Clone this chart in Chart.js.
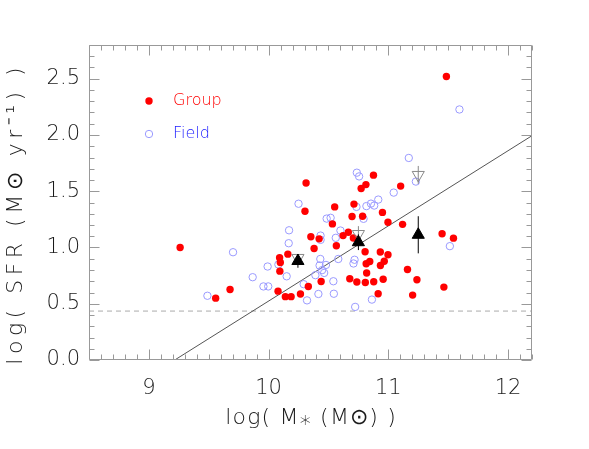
<!DOCTYPE html>
<html>
<head>
<meta charset="utf-8">
<script src="https://cdn.jsdelivr.net/npm/chart.js@4.4.0/dist/chart.umd.min.js"></script>
<style>
  html, body { margin: 0; padding: 0; background: #fff; }
</style>
</head>
<body>
<canvas id="grafico" width="589" height="449"></canvas>
<script>
// Galaxias de grupo (pontos vermelhos)
const massaGrupo = [9.261, 9.558, 9.678, 10.092, 10.098, 10.094, 10.161, 10.079, 10.140, 10.188,
    10.266, 10.304, 10.313, 10.552, 10.533, 10.353, 10.422, 10.380, 10.566, 10.622,
    10.666, 10.713, 10.697, 10.785, 10.773, 10.813, 10.876, 10.708, 10.806, 10.815,
    10.845, 10.819, 10.678, 10.737, 10.808, 10.878, 10.439, 10.332, 11.103, 10.951,
    10.997, 11.119, 11.449, 10.933, 10.997, 10.966, 10.934, 11.160, 11.239, 10.957,
    11.464, 10.915, 11.203, 11.485, 11.544];
const sfrGrupo = [1.000, 0.550, 0.627, 0.909, 0.867, 0.790, 0.941, 0.612, 0.563, 0.563,
    0.587, 1.322, 1.574, 1.361, 1.210, 1.095, 1.077, 0.991, 1.015, 1.106,
    1.136, 1.386, 1.275, 1.278, 1.524, 1.559, 1.643, 1.084, 0.962, 0.855,
    0.876, 0.774, 0.722, 0.694, 0.689, 0.696, 0.698, 0.654, 1.546, 1.312,
    1.224, 1.206, 1.122, 0.960, 0.936, 0.878, 0.840, 0.805, 0.714, 0.718,
    0.648, 0.589, 0.577, 2.520, 1.083];

// Galaxias de campo (circulos azuis)
const massaCampo = [9.489, 9.703, 9.867, 9.957, 9.997, 9.992, 10.082, 10.151, 10.168, 10.171,
    10.250, 10.293, 10.737, 10.756, 10.734, 10.485, 10.518, 10.793, 10.817, 10.855,
    10.882, 10.916, 10.434, 10.434, 10.561, 10.600, 10.582, 10.432, 10.426, 10.479,
    10.447, 10.464, 10.391, 10.718, 10.709, 10.541, 10.416, 10.545, 10.321, 10.723,
    10.863, 11.171, 11.230, 11.045, 11.594, 11.514];
const sfrCampo = [0.571, 0.958, 0.736, 0.654, 0.654, 0.831, 0.849, 0.744, 1.038, 1.153,
    1.389, 0.674, 1.665, 1.632, 1.361, 1.257, 1.264, 1.255, 1.368, 1.390,
    1.373, 1.426, 1.106, 1.068, 1.086, 1.151, 0.898, 0.898, 0.840, 0.845,
    0.799, 0.774, 0.754, 0.891, 0.858, 0.700, 0.587, 0.589, 0.530, 0.472,
    0.537, 1.796, 1.586, 1.488, 2.227, 1.012];

// Medianas por faixa de massa
const massaFaixa = [10.245, 10.75, 11.25];
const sfrFaixaGrupo = [0.880, 1.047, 1.113];
const erroFaixaGrupo = [0.06, 0.07, 0.165];
const sfrFaixaCampo = [0.907, 1.120, 1.645];
const erroFaixaCampo = [0.03, 0.07, 0.08];

// Relacao ajustada e limite de SFR
const massaAjuste = [9.216, 12.2];
const sfrAjuste = [0.0, 1.994];
const limiteSfr = 0.435;

const eixoX = { min: 8.5, max: 12.2 };
const eixoY = { min: 0.0, max: 2.8 };
const ticksX = [9, 10, 11, 12];
const ticksY = [0.0, 0.5, 1.0, 1.5, 2.0, 2.5];

const tituloX = 'log( M⁎ (M⊙) )';
const tituloY = 'log( SFR (M⊙ yr⁻¹) )';

const fonte = "'DejaVu Sans', 'Liberation Sans', sans-serif";
const corTexto = '#1a1a1a';

function pares(xs, ys) {
    return xs.map((x, i) => ({ x: x, y: ys[i] }));
}

function barrasErro(xs, ys, erros) {
    const dados = [];
    xs.forEach((x, i) => {
        dados.push({ x: x, y: ys[i] - erros[i] });
        dados.push({ x: x, y: ys[i] + erros[i] });
        dados.push({ x: x, y: null });
    });
    return dados;
}

// texto com espacamento entre letras, centrado no ponto dado
function textoEspacado(c, texto, x, y, espaco, angulo) {
    c.save();
    c.translate(x, y);
    c.rotate(angulo);
    c.letterSpacing = espaco + 'px';
    const largura = c.measureText(texto).width - espaco;
    c.textAlign = 'left';
    c.textBaseline = 'middle';
    c.fillText(texto, -largura / 2, 0);
    c.restore();
}

// moldura com marcas de escala nos quatro lados, titulos e legenda
const molduraEixos = {
    id: 'molduraEixos',
    afterDraw(chart) {
        const { ctx, chartArea: a, scales: { x, y } } = chart;
        const esq = Math.round(a.left) + 0.5, dir = Math.round(a.right) - 0.5;
        const topo = Math.round(a.top) + 0.5, base = Math.round(a.bottom) - 0.5;
        ctx.save();
        ctx.strokeStyle = '#999';
        ctx.lineWidth = 1;
        ctx.beginPath();
        ctx.rect(esq, topo, dir - esq, base - topo);
        for (let v = Math.ceil(x.min * 10 - 1e-6); v <= x.max * 10 + 1e-6; v++) {
            const tam = v % 10 === 0 ? 10 : 5;
            const px = Math.round(x.getPixelForValue(v / 10)) + 0.5;
            ctx.moveTo(px, base); ctx.lineTo(px, base - tam);
            ctx.moveTo(px, topo); ctx.lineTo(px, topo + tam);
        }
        for (let v = Math.ceil(y.min * 10 - 1e-6); v <= y.max * 10 + 1e-6; v++) {
            const tam = v % 5 === 0 ? 10 : 5;
            const py = Math.round(y.getPixelForValue(v / 10)) + 0.5;
            ctx.moveTo(esq, py); ctx.lineTo(esq + tam, py);
            ctx.moveTo(dir, py); ctx.lineTo(dir - tam, py);
        }
        ctx.stroke();

        // titulos dos eixos
        ctx.fillStyle = corTexto;
        ctx.font = '300 22px ' + fonte;
        textoEspacado(ctx, tituloX, (a.left + a.right) / 2, 418, 1.2, 0);
        textoEspacado(ctx, tituloY, 16, 216, 4.5, -Math.PI / 2);

        // legenda
        const itens = [
            { texto: 'Group', cor: '#ff0000', cheio: true, y: 101 },
            { texto: 'Field', cor: '#1a1aff', cheio: false, y: 134 }
        ];
        ctx.font = '300 16px ' + fonte;
        ctx.textBaseline = 'middle';
        ctx.textAlign = 'left';
        itens.forEach(item => {
            ctx.beginPath();
            ctx.arc(149, item.y, 3.7, 0, Math.PI * 2);
            if (item.cheio) {
                ctx.fillStyle = '#ff0000';
                ctx.fill();
            } else {
                ctx.strokeStyle = '#9a9aff';
                ctx.stroke();
            }
            ctx.fillStyle = item.cor;
            ctx.fillText(item.texto, 173, item.y);
        });
        ctx.restore();
    }
};

const ctx = document.getElementById('grafico').getContext('2d');

new Chart(ctx, {
    type: 'scatter',
    data: {
        datasets: [
            {
                label: 'Group median',
                data: pares(massaFaixa, sfrFaixaGrupo),
                pointStyle: 'triangle',
                pointRadius: 7,
                backgroundColor: '#000',
                borderColor: '#000',
                borderWidth: 1,
                order: 0
            },
            {
                label: 'Group error',
                data: barrasErro(massaFaixa, sfrFaixaGrupo, erroFaixaGrupo),
                showLine: true,
                spanGaps: false,
                pointRadius: 0,
                borderColor: '#000',
                borderWidth: 1,
                order: 1
            },
            {
                label: 'Field median',
                data: pares(massaFaixa, sfrFaixaCampo),
                pointStyle: 'triangle',
                rotation: 180,
                pointRadius: 7,
                backgroundColor: 'rgba(0,0,0,0)',
                borderColor: '#888',
                borderWidth: 1,
                order: 2
            },
            {
                label: 'Field error',
                data: barrasErro(massaFaixa, sfrFaixaCampo, erroFaixaCampo),
                showLine: true,
                spanGaps: false,
                pointRadius: 0,
                borderColor: '#888',
                borderWidth: 1,
                order: 3
            },
            {
                label: 'Group',
                data: pares(massaGrupo, sfrGrupo),
                pointRadius: 3.7,
                backgroundColor: '#ff0000',
                borderColor: '#ff0000',
                borderWidth: 0,
                order: 4
            },
            {
                label: 'Field',
                data: pares(massaCampo, sfrCampo),
                pointRadius: 3.7,
                backgroundColor: 'rgba(0,0,0,0)',
                borderColor: '#9a9aff',
                borderWidth: 1,
                order: 5
            },
            {
                label: 'Ajuste',
                data: pares(massaAjuste, sfrAjuste),
                showLine: true,
                pointRadius: 0,
                borderColor: '#555',
                borderWidth: 1,
                order: 6
            },
            {
                label: 'Limite',
                data: [{ x: eixoX.min, y: limiteSfr }, { x: eixoX.max, y: limiteSfr }],
                showLine: true,
                pointRadius: 0,
                borderColor: '#aaa',
                borderWidth: 1,
                borderDash: [5, 4],
                order: 7
            }
        ]
    },
    options: {
        responsive: false,
        animation: false,
        layout: { padding: { top: 45, right: 57, left: 0, bottom: 0 } },
        plugins: {
            legend: { display: false },
            tooltip: { enabled: false }
        },
        scales: {
            x: {
                type: 'linear',
                min: eixoX.min,
                max: eixoX.max,
                afterFit: escala => { escala.height = 89; },
                afterBuildTicks: escala => { escala.ticks = ticksX.map(v => ({ value: v })); },
                grid: { display: false, drawTicks: false },
                border: { display: false },
                ticks: {
                    padding: 16,
                    color: corTexto,
                    font: { family: fonte, size: 21, weight: '300' },
                    callback: v => v.toFixed(0)
                }
            },
            y: {
                type: 'linear',
                min: eixoY.min,
                max: eixoY.max,
                afterFit: escala => { escala.width = 89; },
                afterBuildTicks: escala => { escala.ticks = ticksY.map(v => ({ value: v })); },
                grid: { display: false, drawTicks: false },
                border: { display: false },
                ticks: {
                    padding: 9,
                    color: corTexto,
                    font: { family: fonte, size: 21, weight: '300' },
                    callback: v => v.toFixed(1)
                }
            }
        }
    },
    plugins: [molduraEixos]
});
</script>
</body>
</html>
